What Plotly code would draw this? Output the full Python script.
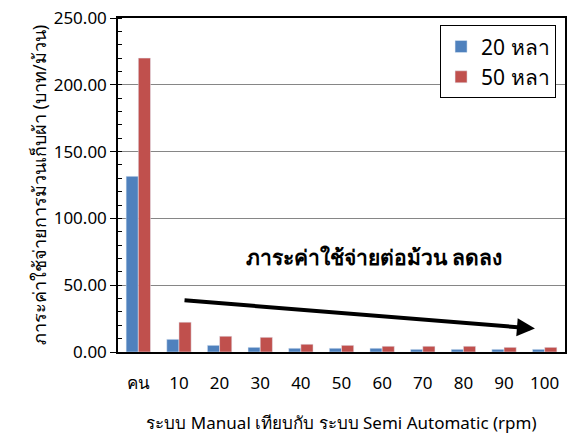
import plotly.graph_objects as go

categories = ["คน", "10", "20", "30", "40", "50", "60", "70", "80", "90", "100"]
values_20 = [131.5, 9.5, 5.0, 3.5, 2.8, 2.8, 2.8, 2.0, 2.0, 2.0, 2.0]
values_50 = [220.0, 22.3, 11.8, 11.0, 5.8, 5.0, 4.3, 4.3, 4.3, 3.5, 3.5]
series_names = ["20 หลา", "50 หลา"]
y_ticks = [0, 50, 100, 150, 200, 250]
y_tick_labels = ["0.00", "50.00", "100.00", "150.00", "200.00", "250.00"]

FONT = "Noto Sans, Tahoma, sans-serif"

fig = go.Figure()
fig.add_trace(go.Bar(x=categories, y=values_20, name=series_names[0], marker_color="#4F81BD"))
fig.add_trace(go.Bar(x=categories, y=values_50, name=series_names[1], marker_color="#C0504D"))

fig.update_layout(
    width=570, height=437,
    margin=dict(l=118, r=3, t=18, b=85),
    plot_bgcolor="white", paper_bgcolor="white",
    barmode="group", bargap=0.4, bargroupgap=0,
    font=dict(family=FONT, size=17, color="black"),
    showlegend=True,
    legend=dict(x=0.98, y=0.978, xanchor="right", yanchor="top",
                bordercolor="black", borderwidth=1, bgcolor="white",
                font=dict(size=21), itemwidth=30, tracegroupgap=6),
    xaxis=dict(type="category", showline=True, linecolor="black", linewidth=1.5,
               mirror=True,
               ticks="", tickfont=dict(size=17), ticklabelstandoff=15,
               title=dict(text="ระบบ Manual เทียบกับ ระบบ Semi Automatic (rpm)",
                          font=dict(size=17), standoff=24)),
    yaxis=dict(range=[0, 250], tickvals=y_ticks, ticktext=y_tick_labels,
               showline=True, linecolor="black", linewidth=1.5, mirror=True,
               ticks="outside", ticklen=6, tickcolor="black",
               showgrid=True, gridcolor="#868686", gridwidth=1,
               minor=dict(dtick=10, ticks="inside", ticklen=4, tickcolor="black", showgrid=False),
               tickfont=dict(size=17), zeroline=False,
               title=dict(text="ภาระค่าใช้จ่ายการม้วนเก็บผ้า (บาท/ม้วน)", font=dict(size=18), standoff=2)),
)

fig.add_annotation(
    x=9.76, y=17.5, ax=1.1, ay=38.8, xref="x", yref="y", axref="x", ayref="y",
    showarrow=True, arrowhead=2, arrowsize=0.9, arrowwidth=4, arrowcolor="black", text="",
)
fig.add_annotation(
    x=5.8, y=71, xref="x", yref="y", text="<b>ภาระค่าใช้จ่ายต่อม้วน ลดลง</b>",
    showarrow=False, font=dict(size=21, color="black"),
)

fig.write_html("out.html")
